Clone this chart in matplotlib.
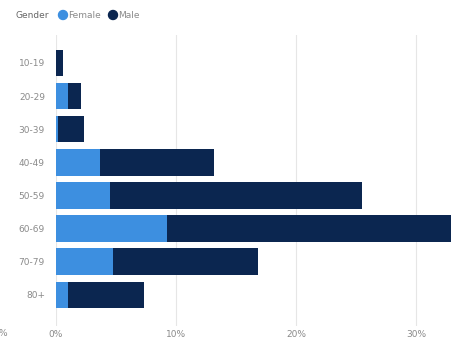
import matplotlib.pyplot as plt
from matplotlib.patches import Ellipse

# age groups and share of cases (%) by gender
age_groups = ['10-19', '20-29', '30-39', '40-49', '50-59', '60-69', '70-79', '80+']
female = [0.0, 1.0, 0.2, 3.7, 4.5, 9.25, 4.75, 1.0]
male = [0.55, 1.1, 2.1, 9.5, 21.0, 23.65, 12.05, 6.3]
x_ticks = [0, 10, 20, 30]
x_labels = ['0%', '10%', '20%', '30%']

c_female = '#3d8fe0'
c_male = '#0b2650'
c_text = '#8a8a8a'

fig = plt.figure(figsize=(4.66, 3.41), dpi=100)
W, H = 466, 341
ax = fig.add_axes([56 / W, 1 - 326 / H, (W - 56) / W, (326 - 35) / H])

pos = list(range(len(age_groups)))
ax.barh(pos, female, height=0.8, color=c_female, zorder=3)
ax.barh(pos, male, left=female, height=0.8, color=c_male, zorder=3)

ax.set_xlim(0, (W - 56) / 12)
ax.set_ylim(7.94, -0.845)
ax.set_yticks(pos)
ax.set_yticklabels(age_groups)
ax.set_xticks(x_ticks)
ax.set_xticklabels(x_labels)
ax.tick_params(axis='both', length=0, labelsize=6.5, labelcolor=c_text)
ax.tick_params(axis='y', pad=8)
ax.tick_params(axis='x', pad=3)
ax.grid(axis='x', color='#e6e6e6', linewidth=0.8, zorder=0)
for s in ax.spines.values():
    s.set_visible(False)

# clipped label at the left edge
fig.text(3 / W, 1 - 333 / H, '%', fontsize=6.5, color=c_text, ha='center', va='center')

# legend row
fig.text(15 / W, 1 - 15 / H, 'Gender', fontsize=6.5, color='#666666', va='center')
fig.text(68 / W, 1 - 15 / H, 'Female', fontsize=6.5, color=c_text, va='center')
fig.text(118 / W, 1 - 15 / H, 'Male', fontsize=6.5, color=c_text, va='center')
for cx, col in [(63, c_female), (113, c_male)]:
    fig.patches.append(Ellipse((cx / W, 1 - 15 / H), 9 / W, 9 / H,
                               transform=fig.transFigure, color=col, figure=fig))

fig.savefig('out.png', dpi=100)
